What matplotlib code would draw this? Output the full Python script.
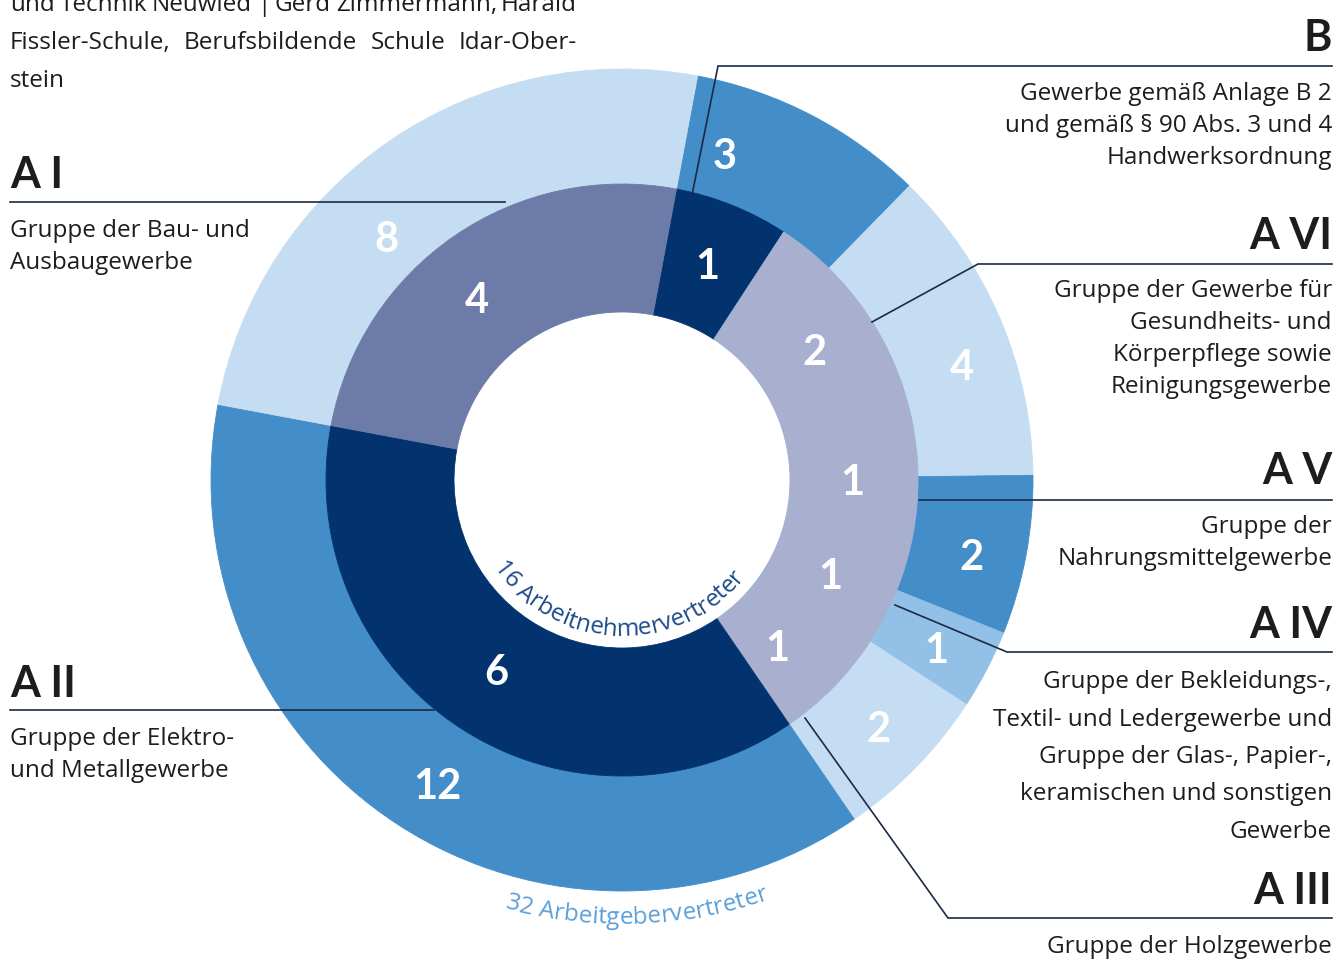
import numpy as np
import matplotlib
matplotlib.use("Agg")
import matplotlib.pyplot as plt
from matplotlib.font_manager import FontProperties
from matplotlib.textpath import TextToPath

W, H, DPI = 1336, 961, 100

# --- data -------------------------------------------------------------
groups = ["B", "A VI", "A V", "A IV", "A III", "A II", "A I"]
employer_seats = [3, 4, 2, 1, 2, 12, 8]   # outer ring: 32 Arbeitgebervertreter
employee_seats = [1, 2, 1, 1, 1, 6, 4]    # inner ring: 16 Arbeitnehmervertreter

outer_title = "32 Arbeitgebervertreter"
inner_title = "16 Arbeitnehmervertreter"

descriptions = {
    "B": ["Gewerbe gemäß Anlage B 2", "und gemäß § 90 Abs. 3 und 4",
          "Handwerksordnung"],
    "A VI": ["Gruppe der Gewerbe für", "Gesundheits- und",
             "Körperpflege sowie", "Reinigungsgewerbe"],
    "A V": ["Gruppe der", "Nahrungsmittelgewerbe"],
    "A IV": ["Gruppe der Bekleidungs-,", "Textil- und Ledergewerbe und",
             "Gruppe der Glas-, Papier-,", "keramischen und sonstigen",
             "Gewerbe"],
    "A III": ["Gruppe der Holzgewerbe"],
    "A I": ["Gruppe der Bau- und", "Ausbaugewerbe"],
    "A II": ["Gruppe der Elektro-", "und Metallgewerbe"],
}

intro_lines = ["und Technik Neuwied | Gerd Zimmermann, Harald",
               "Fissler-Schule, Berufsbildende Schule Idar-Ober-",
               "stein"]

# --- styles / layout --------------------------------------------------
outer_colors = ["#438dc9", "#c5ddf2", "#438dc9", "#92c0e6", "#c5ddf2",
                "#438dc9", "#c5ddf2"]
inner_colors = ["#02336f", "#a9b0cf", "#a9b0cf", "#a9b0cf", "#a9b0cf",
                "#02336f", "#6d7ba8"]
TEXT = "#1d1d1b"
LINE = "#1b2a45"
HEAD_FONT = ["Lato", "DejaVu Sans"]
BODY_FONT = ["Open Sans", "DejaVu Sans"]

CX, CY = 622, 480          # ring centre (pixels, from top)
R_OUT, R_MID, R_HOLE = 411, 296, 168
START = 79.4

# small nudges of the value labels (degrees / pixels)
outer_nudge = [9.8, -5, -2, -1, 0, 2, 10]
outer_rshift = [-19, 0, 0, 0, 0, 0, -22]
inner_nudge = [0, -1, -1.5, -3, -3, 0, 4.6]
inner_rshift = [0, 0, 0, 0, 0, 0, 0]

heading_base = {"B": 51, "A VI": 249, "A V": 484, "A IV": 638,
                "A III": 904, "A I": 188, "A II": 697}
body_base = {"B": 100, "A VI": 297, "A V": 533, "A IV": 688,
             "A III": 953, "A I": 237, "A II": 745}
body_step = {"A IV": 37.5}
left_side = ["A I", "A II"]

leaders = {
    "B": [(1332, 66), (718, 66), (692, 195)],
    "A VI": [(1332, 264), (978, 264), (872, 322)],
    "A V": [(1332, 500), (919, 500)],
    "A IV": [(1332, 652), (1007, 652), (895, 605)],
    "A III": [(1332, 918), (948, 918), (805, 718)],
    "A I": [(10, 202), (505, 202)],
    "A II": [(10, 710), (434, 710)],
}


def Y(py):
    return H - py


t2p = TextToPath()


def text_width(s, fp):
    w, _, _ = t2p.get_text_width_height_descent(s, fp, ismath=False)
    return w * DPI / 72.0


def arc_text(ax, s, radius, mid_deg, fp, color):
    """Write s along the lower arc of the circle, letters upright."""
    total = text_width(s, fp)
    start = mid_deg - np.degrees(total / 2.0 / radius)
    for i, ch in enumerate(s):
        if ch == " ":
            continue
        pos = (text_width(s[:i], fp) + text_width(s[:i + 1], fp)) / 2.0
        ang = start + np.degrees(pos / radius)
        x = CX + radius * np.cos(np.radians(ang))
        y = Y(CY) + radius * np.sin(np.radians(ang))
        ax.text(x, y, ch, fontproperties=fp, color=color, ha="center",
                va="baseline", rotation=ang + 90, rotation_mode="anchor")


fig = plt.figure(figsize=(W / DPI, H / DPI), dpi=DPI)
ax = fig.add_axes([0, 0, 1, 1])

outer, _ = ax.pie(employer_seats, radius=R_OUT, center=(CX, Y(CY)),
                  startangle=START, counterclock=False, colors=outer_colors,
                  wedgeprops=dict(width=R_OUT - R_MID, linewidth=0.6))
inner, _ = ax.pie(employee_seats, radius=R_MID, center=(CX, Y(CY)),
                  startangle=START, counterclock=False, colors=inner_colors,
                  wedgeprops=dict(width=R_MID - R_HOLE, linewidth=0.6))
for w, c in zip(outer, outer_colors):
    w.set_edgecolor(c)
for w, c in zip(inner, inner_colors):
    w.set_edgecolor("#9fb2d8" if c == "#a9b0cf" else c)

# value labels
num_fp = FontProperties(family=HEAD_FONT, weight="bold", size=30)
for wedges, vals, nudge, rsh, r in (
        (outer, employer_seats, outer_nudge, outer_rshift, 358),
        (inner, employee_seats, inner_nudge, inner_rshift, 230)):
    for w, v, dn, dr in zip(wedges, vals, nudge, rsh):
        ang = np.radians((w.theta1 + w.theta2) / 2.0 + dn)
        ax.text(CX + (r + dr) * np.cos(ang), Y(CY) + (r + dr) * np.sin(ang),
                str(v), fontproperties=num_fp, color="white", ha="center",
                va="center")

# curved ring titles
arc_fp = FontProperties(family=BODY_FONT, size=17.5)
arc_text(ax, inner_title, 156, -92, arc_fp, "#1d4a8a")
arc_text(ax, outer_title, 444, -88, arc_fp, "#5a9fd8")

# leader lines
for g, pts in leaders.items():
    xs = [p[0] for p in pts]
    ys = [Y(p[1]) for p in pts]
    ax.plot(xs, ys, color=LINE, linewidth=1.2, solid_joinstyle="miter")

# group headings and descriptions
head_fp = FontProperties(family=HEAD_FONT, weight="bold", size=31)
body_fp = FontProperties(family=BODY_FONT, weight="medium", size=17.5)
for g in groups:
    left = g in left_side
    x = 10 if left else 1332
    ha = "left" if left else "right"
    ax.text(x, Y(heading_base[g]), g, fontproperties=head_fp, color=TEXT,
            ha=ha, va="baseline")
    step = body_step.get(g, 32)
    for i, line in enumerate(descriptions[g]):
        ax.text(x, Y(body_base[g] + i * step), line, fontproperties=body_fp,
                color=TEXT, ha=ha, va="baseline")

# justified intro paragraph (cut at the top edge, as in the source page)
x0, x1 = 10, 577
for i, line in enumerate(intro_lines):
    base = Y(11 + i * 38)
    words = line.split(" ")
    if i == len(intro_lines) - 1 or len(words) == 1:
        ax.text(x0, base, line, fontproperties=body_fp, color=TEXT,
                ha="left", va="baseline")
        continue
    widths = [text_width(wd, body_fp) for wd in words]
    gap = (x1 - x0 - sum(widths)) / (len(words) - 1)
    x = x0
    for wd, wdt in zip(words, widths):
        ax.text(x, base, wd, fontproperties=body_fp, color=TEXT,
                ha="left", va="baseline")
        x += wdt + gap

ax.set_xlim(0, W)
ax.set_ylim(0, H)
ax.set_aspect("equal")
ax.axis("off")

fig.savefig("out.png", dpi=DPI)
